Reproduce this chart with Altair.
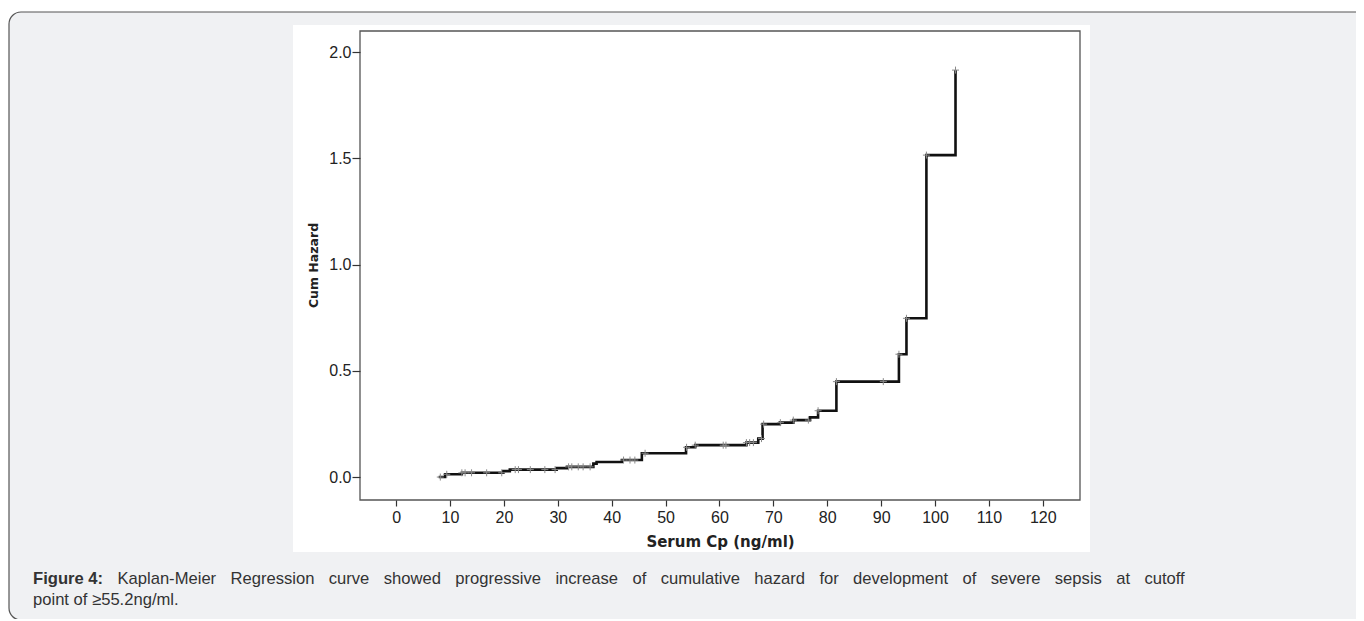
import altair as alt
import pandas as pd
import numpy as np

# ---- data ----
step_x = [7.9, 9.1, 12.2, 19.9, 21.1, 29.8, 31.7, 36.6, 37.2, 41.9, 45.6, 53.8, 55.5,
          65.0, 67.2, 68.0, 71.2, 73.7, 76.8, 78.3, 81.7, 93.3, 94.7, 98.4, 103.8]
step_h = [0.0, 0.013, 0.02, 0.028, 0.035, 0.042, 0.048, 0.063, 0.071, 0.08, 0.112, 0.14, 0.15,
          0.162, 0.181, 0.249, 0.256, 0.268, 0.281, 0.312, 0.449, 0.578, 0.747, 1.515, 1.915]
censor_x = [8.2, 9.4, 12.2, 12.8, 14.0, 16.8, 19.6, 22.1, 22.7, 24.9, 27.6, 29.5, 32.0, 32.6,
            33.8, 34.7, 36.0, 42.2, 43.4, 44.3, 46.2, 53.9, 55.5, 60.7, 61.2, 65.0, 65.6, 66.3,
            67.8, 68.2, 71.3, 73.7, 76.5, 78.3, 81.7, 90.4, 93.3, 94.7, 98.4, 103.8]
x_ticks = [0, 10, 20, 30, 40, 50, 60, 70, 80, 90, 100, 110, 120]
y_ticks = [0.0, 0.5, 1.0, 1.5, 2.0]
x_title = "Serum Cp (ng/ml)"
y_title = "Cum Hazard"
caption_bold = "Figure 4:"
caption_line1 = ("Kaplan-Meier Regression curve showed progressive increase of cumulative "
                 "hazard for development of severe sepsis at cutoff")
caption_line2 = "point of \u226555.2ng/ml."

# ---- tables ----
steps = pd.DataFrame({"x": step_x, "h": step_h})
idx = np.searchsorted(np.array(step_x), np.array(censor_x), side="right") - 1
cens = pd.DataFrame({"x": censor_x, "h": [step_h[i] for i in idx]})

# caption layout (justified first line, Arial metrics)
W = {" ": 278, "-": 333, ".": 278, "/": 278, ":": 278, "\u2265": 549}
for c in "0123456789":
    W[c] = 556
W.update(dict(K=667, M=833, R=722, F=611))
W.update(dict(a=556, b=556, c=500, d=556, e=556, f=278, g=556, h=556, i=222, j=222, k=500,
              l=222, m=833, n=556, o=556, p=556, q=556, r=333, s=500, t=278, u=556, v=500,
              w=722, x=500, y=500, z=500))
BW = {"F": 611, "i": 278, "g": 611, "u": 611, "r": 389, "e": 556, " ": 278, "4": 556, ":": 333}
FS = 16.6
def tw(s, table=W):
    return sum(table.get(ch, 556) for ch in s) * FS / 1000.0

left_px, right_px = 33 - 360, 1185 - 360
words = caption_line1.split(" ")
bold_w = tw(caption_bold, BW)
gap = (right_px - left_px - bold_w - sum(tw(w) for w in words)) / len(words)
xs = []
cur = left_px + bold_w + gap
for w in words:
    xs.append(cur)
    cur += tw(w) + gap

PW, PH = 720, 469
xs_scale = alt.Scale(domain=[-6.7, 126.9], nice=False, zero=False)
ys_scale = alt.Scale(domain=[-0.108, 2.099], nice=False, zero=False)
one = pd.DataFrame({"a": [0]})

outer = alt.Chart(one).mark_rect(
    cornerRadius=12, fill="#f0f1f3", stroke="#555555", strokeWidth=1.2
).encode(x=alt.value(-351), x2=alt.value(1020), y=alt.value(-19), y2=alt.value(589))

panel = alt.Chart(one).mark_rect(fill="white").encode(
    x=alt.value(-67), x2=alt.value(730), y=alt.value(-6), y2=alt.value(521))

frame = alt.Chart(one).mark_rect(
    fillOpacity=0, stroke="#555555", strokeWidth=1.3
).encode(x=alt.value(0), x2=alt.value(PW), y=alt.value(0), y2=alt.value(PH))

xaxis = alt.Axis(values=x_ticks, title=x_title, grid=False, domain=False, zindex=1,
                 tickSize=6, tickColor="#333", tickWidth=1.2, labelPadding=3,
                 labelFont="Liberation Sans", labelFontSize=16, labelColor="#222",
                 titleFont="DejaVu Sans", titleFontSize=15, titleFontWeight="bold",
                 titleColor="#222", titleX=360, titleY=41, titleBaseline="middle",
                 titleAlign="center")
yaxis = alt.Axis(values=y_ticks, format=".1f", title=y_title, grid=False, domain=False,
                 zindex=1, tickSize=8, tickColor="#333", tickWidth=1.2, labelPadding=1,
                 labelFont="Liberation Sans", labelFontSize=16, labelColor="#222",
                 titleFont="DejaVu Sans", titleFontSize=12.5, titleFontWeight="bold",
                 titleColor="#222", titleX=-47, titleY=234, titleAngle=-90,
                 titleBaseline="middle", titleAlign="center")

line = alt.Chart(steps).mark_line(interpolate="step-after", color="#111111",
                                  strokeWidth=2.6).encode(
    x=alt.X("x:Q", scale=xs_scale, axis=xaxis),
    y=alt.Y("h:Q", scale=ys_scale, axis=yaxis))

pts = alt.Chart(cens).mark_point(shape="M-1,0L1,0M0,-1L0,1", size=49, filled=False,
                                 stroke="#8a8a8a", strokeWidth=1, opacity=1).encode(
    x=alt.X("x:Q", scale=xs_scale), y=alt.Y("h:Q", scale=ys_scale))

texts = [alt.Chart(one).mark_text(font="Liberation Sans", fontSize=FS, fontWeight="bold",
                                  color="#333333", align="left", baseline="alphabetic").encode(
    x=alt.value(left_px), y=alt.value(553), text=alt.value(caption_bold))]
for w, px in zip(words, xs):
    texts.append(alt.Chart(one).mark_text(font="Liberation Sans", fontSize=FS,
                                          color="#333333", align="left",
                                          baseline="alphabetic").encode(
        x=alt.value(px), y=alt.value(553), text=alt.value(w)))
texts.append(alt.Chart(one).mark_text(font="Liberation Sans", fontSize=FS, color="#333333",
                                      align="left", baseline="alphabetic").encode(
    x=alt.value(left_px), y=alt.value(574), text=alt.value(caption_line2)))

chart = alt.layer(outer, panel, frame, line, pts, *texts).properties(
    width=PW, height=PH,
    autosize=alt.AutoSizeParams(type="none"),
    padding={"left": 352, "top": 23, "right": 276, "bottom": 119},
    background="white",
).configure_view(strokeWidth=0)

chart.save("out.html", embed_options={"renderer": "svg", "actions": False})
